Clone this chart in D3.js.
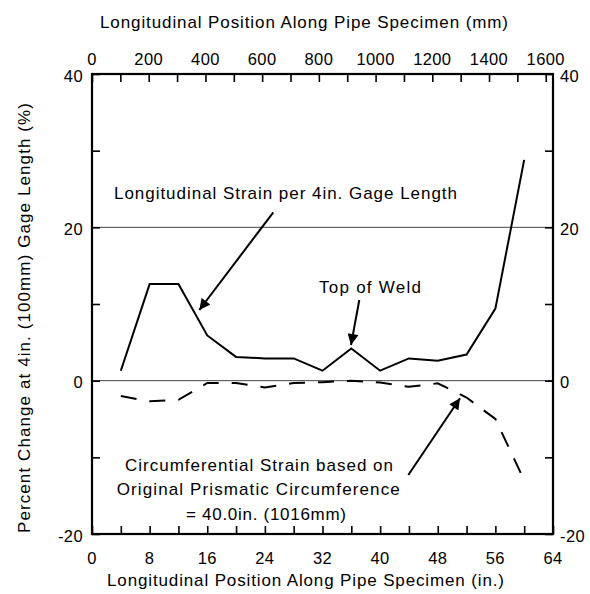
<!DOCTYPE html>
<html>
<head>
<meta charset="utf-8">
<script src="https://cdn.jsdelivr.net/npm/d3@7"></script>
<style>
  html, body { margin: 0; padding: 0; background: #fff; }
  svg { display: block; font-family: "Liberation Sans", Arial, sans-serif; }
</style>
</head>
<body>
<svg id="chart" width="590" height="594"></svg>
<script>
// Gauge positions along the specimen (in.)
const positionsIn = [4, 8, 12, 16, 20, 24, 28, 32, 36, 40, 44, 48, 52, 56, 60];
// Longitudinal strain per 4 in. gage length (%)
const longitudinalStrain = [1.3, 12.6, 12.6, 5.9, 3.1, 2.9, 2.9, 1.3, 4.2, 1.3, 2.9, 2.6, 3.4, 9.4, 28.8];
// Circumferential strain (%)
const circumferentialStrain = [-2.0, -2.7, -2.5, -0.3, -0.3, -0.9, -0.3, -0.2, 0.0, -0.25, -0.8, -0.35, -2.2, -5.0, -13.0];

const bottomTicksIn = [0, 8, 16, 24, 32, 40, 48, 56, 64];
const bottomMinorIn = d3.range(0, 65, 4);
const topTicksMm = [0, 200, 400, 600, 800, 1000, 1200, 1400, 1600];
const topMinorMm = d3.range(0, 1601, 100);
const yTicks = [-20, 0, 20, 40];
const yMinor = [-20, -10, 0, 10, 20, 30, 40];
const refLines = [0, 20];

const svg = d3.select("#chart");
const L = 92, R = 553, T = 74, B = 534;
const MM_PER_IN = 25.4;

const x = d3.scaleLinear().domain([0, 64]).range([L, R]);
const xMm = d3.scaleLinear().domain([0, 64 * MM_PER_IN]).range([L, R]);
const y = d3.scaleLinear().domain([-20, 40]).range([B, T]);

const FS = 17;
const NUM_FS = 16.5;

// text helper with a fixed rendered width
function label(sel, str, width) {
  sel.attr("font-size", FS).text(str);
  if (width) sel.attr("textLength", width).attr("lengthAdjust", "spacing");
  return sel;
}

// reference lines
svg.append("g").selectAll("line").data(refLines).join("line")
  .attr("x1", L).attr("x2", R)
  .attr("y1", d => y(d)).attr("y2", d => y(d))
  .attr("stroke", "#444").attr("stroke-width", 1);

// axes (inward ticks, labels drawn separately)
const tickLen = 8;
const axisStyle = g => {
  g.select(".domain").remove();
  g.selectAll(".tick line").attr("stroke", "#000").attr("stroke-width", 1.6);
  g.selectAll(".tick text").remove();
};
svg.append("g").attr("transform", `translate(0,${B})`)
  .call(d3.axisTop(x).tickValues(bottomMinorIn).tickSize(tickLen)).call(axisStyle);
svg.append("g").attr("transform", `translate(0,${T})`)
  .call(d3.axisBottom(xMm).tickValues(topMinorMm).tickSize(tickLen)).call(axisStyle);
svg.append("g").attr("transform", `translate(${L},0)`)
  .call(d3.axisRight(y).tickValues(yMinor).tickSize(tickLen)).call(axisStyle);
svg.append("g").attr("transform", `translate(${R},0)`)
  .call(d3.axisLeft(y).tickValues(yMinor).tickSize(tickLen)).call(axisStyle);

// frame
svg.append("rect").attr("x", L).attr("y", T).attr("width", R - L).attr("height", B - T)
  .attr("fill", "none").attr("stroke", "#000").attr("stroke-width", 2.2);

// tick labels
svg.append("g").selectAll("text").data(bottomTicksIn).join("text")
  .attr("x", d => x(d)).attr("y", 563.5).attr("text-anchor", "middle")
  .attr("font-size", NUM_FS).attr("letter-spacing", 0.4).text(d => d);
svg.append("g").selectAll("text").data(topTicksMm).join("text")
  .attr("x", d => xMm(d)).attr("y", 65).attr("text-anchor", "middle")
  .attr("font-size", NUM_FS).attr("letter-spacing", 0.4).text(d => d);
svg.append("g").selectAll("text").data(yTicks).join("text")
  .attr("x", L - 9).attr("y", d => y(d) + 7.5).attr("text-anchor", "end")
  .attr("font-size", NUM_FS).attr("letter-spacing", 0.4).text(d => d);
svg.append("g").selectAll("text").data(yTicks).join("text")
  .attr("x", R + 7).attr("y", d => y(d) + 7.5).attr("text-anchor", "start")
  .attr("font-size", NUM_FS).attr("letter-spacing", 0.4).text(d => d);

// axis titles
label(svg.append("text").attr("x", 100).attr("y", 28),
  "Longitudinal Position Along Pipe Specimen (mm)", 408);
label(svg.append("text").attr("x", 107).attr("y", 586),
  "Longitudinal Position Along Pipe Specimen (in.)", 397);
label(svg.append("text").attr("transform", "translate(30,533) rotate(-90)"),
  "Percent Change at 4in. (100mm) Gage Length (%)", 430);

// data lines
const line = d3.line().x(d => x(d[0])).y(d => y(d[1]));
svg.append("path")
  .datum(positionsIn.map((p, i) => [p, longitudinalStrain[i]]))
  .attr("d", line).attr("fill", "none").attr("stroke", "#000")
  .attr("stroke-width", 2).attr("stroke-linejoin", "miter");
svg.append("path")
  .datum(positionsIn.map((p, i) => [p, circumferentialStrain[i]]))
  .attr("d", line).attr("fill", "none").attr("stroke", "#000")
  .attr("stroke-width", 2).attr("stroke-dasharray", "16,13");

// annotation arrows
const defs = svg.append("defs");
defs.append("marker").attr("id", "head")
  .attr("viewBox", "0 0 10 10").attr("refX", 10).attr("refY", 5)
  .attr("markerWidth", 6).attr("markerHeight", 5.5)
  .attr("markerUnits", "strokeWidth").attr("orient", "auto")
  .append("path").attr("d", "M0,0 L10,5 L0,10 Z").attr("fill", "#000");

function arrow(x1, y1, x2, y2) {
  svg.append("line").attr("x1", x1).attr("y1", y1).attr("x2", x2).attr("y2", y2)
    .attr("stroke", "#000").attr("stroke-width", 2).attr("marker-end", "url(#head)");
}
arrow(273.3, 212.3, 199.3, 310);
arrow(359.3, 300, 351, 345);
arrow(408.3, 475, 460, 398.3);

// annotation text
label(svg.append("text").attr("x", 114).attr("y", 199),
  "Longitudinal Strain per 4in. Gage Length", 343);
label(svg.append("text").attr("x", 319).attr("y", 293), "Top of Weld", 102);
const circLines = ["Circumferential Strain based on", "Original Prismatic Circumference", "= 40.0in. (1016mm)"];
const circX = [125, 116.7, 186];
const circW = [268, 283, 160];
circLines.forEach((s, i) => {
  label(svg.append("text").attr("x", circX[i]).attr("y", 470.7 + i * 24.6), s, circW[i]);
});
</script>
</body>
</html>
